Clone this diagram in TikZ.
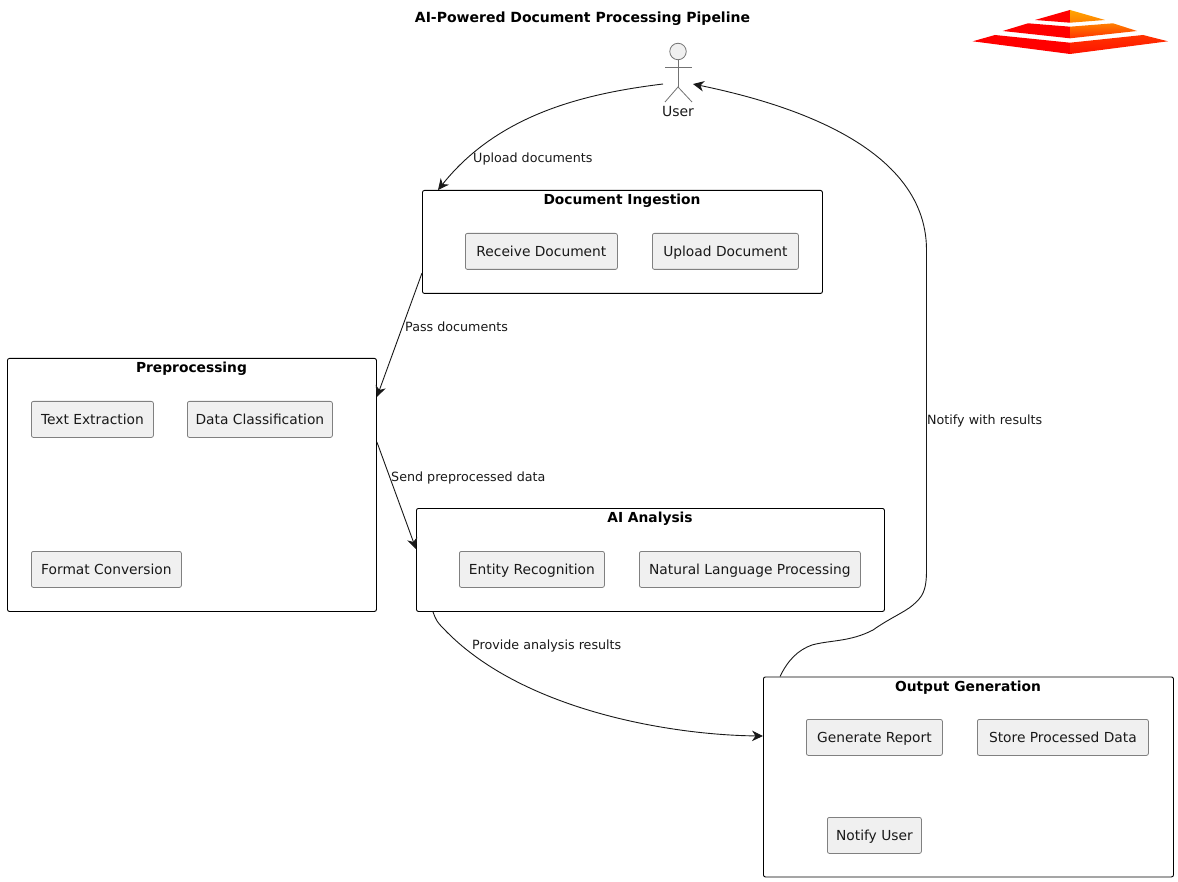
\documentclass[tikz,border=0pt]{standalone}
\usepackage{fontspec}
\setmainfont{DejaVu Sans}
\usetikzlibrary{arrows.meta,calc}
\tikzset{
  pic/.style={x=1pt,y=-1pt},
  groupbox/.style={draw=black,line width=0.9pt,rounded corners=2pt,anchor=north west,inner sep=0pt},
  taskbox/.style={draw=black!50,fill=black!6,line width=0.8pt,rounded corners=2pt,anchor=north west,inner sep=0pt,minimum height=36pt,text height=10.5pt,text depth=0.5pt,font=\fontsize{13.8}{16}\selectfont,text=black!90},
  grouptitle/.style={font=\fontsize{13.8}{16}\selectfont\bfseries,text=black,inner sep=0pt},
  edgelabel/.style={font=\fontsize{12.7}{15}\selectfont,text=black!90,anchor=west,inner sep=0pt},
  flow/.style={draw=black!90,line width=0.9pt,-{Stealth[length=11pt,width=10.5pt,inset=3.5pt]}},
  actorline/.style={draw=black!55,line width=0.8pt}
}
\begin{document}
\begin{tikzpicture}[pic]
\useasboundingbox (0,0) rectangle (1178,882);
\node[font=\fontsize{14}{16}\selectfont\bfseries,inner sep=0pt] (title) at (582.5,19) {AI-Powered Document Processing Pipeline};

% logo
\fill[red] (1035,20) -- (1070,10) -- (1070,22.7) -- cycle;
\shade[top color=orange!70!yellow,bottom color=orange] (1070,10) -- (1105,20) -- (1070,22.7) -- cycle;
\fill[red] (1002.7,31) -- (1028,23.3) -- (1070,26.7) -- (1070,38.3) -- cycle;
\shade[top color=orange,bottom color=red!60!orange] (1070,26.7) -- (1113,23.3) -- (1137,31) -- (1070,38.3) -- cycle;
\fill[red] (972.7,41.3) -- (995,35) -- (1070,42.7) -- (1070,54) -- cycle;
\shade[top color=red!60!orange,bottom color=red!85!orange] (1070,42.7) -- (1143,35) -- (1168,41.3) -- (1070,54) -- cycle;

% actor
\node[circle,draw=black!55,fill=black!6,line width=0.8pt,minimum size=16.5pt,inner sep=0pt] (head) at (678,51.5) {};
\coordinate (hip) at (678,87);
\coordinate (armL) at (665,67);
\coordinate (armR) at (692,67);
\coordinate (legL) at (665,102);
\coordinate (legR) at (692,102);
\draw[actorline] (head.south) -- (hip);
\draw[actorline] (armL) -- (armR);
\draw[actorline] (legL) -- (hip) -- (legR);
\node[font=\fontsize{14}{16}\selectfont,text=black!90,inner sep=0pt] (user) at (678,111.5) {User};
\coordinate (userOut) at (663,84);
\coordinate (userIn) at (693,84);

% groups
\node[groupbox,minimum width=400pt,minimum height=103pt] (ing) at (422,190) {};
\node[groupbox,minimum width=369pt,minimum height=253pt] (pre) at (7,358) {};
\node[groupbox,minimum width=468pt,minimum height=103pt] (ai) at (416,508) {};
\node[groupbox,minimum width=410pt,minimum height=200pt] (out) at (763,676.5) {};

\node[grouptitle] (ingT) at (622,201) {Document Ingestion};
\node[grouptitle] (preT) at (191.5,369) {Preprocessing};
\node[grouptitle] (aiT) at (650,519) {AI Analysis};
\node[grouptitle] (outT) at (968,688) {Output Generation};

% tasks
\node[taskbox,minimum width=152pt] (t1) at (465,233) {Receive Document};
\node[taskbox,minimum width=146pt] (t2) at (652,233) {Upload Document};
\node[taskbox,minimum width=122pt] (t3) at (31,401) {Text Extraction};
\node[taskbox,minimum width=145pt] (t4) at (187,401) {Data Classification};
\node[taskbox,minimum width=150pt] (t5) at (31,551) {Format Conversion};
\node[taskbox,minimum width=145pt] (t6) at (459,551) {Entity Recognition};
\node[taskbox,minimum width=221pt] (t7) at (639,551) {Natural Language Processing};
\node[taskbox,minimum width=136pt] (t8) at (806,719) {Generate Report};
\node[taskbox,minimum width=171pt] (t9) at (977,719) {Store Processed Data};
\node[taskbox,minimum width=94pt] (t10) at (827,817) {Notify User};

% connectors
\draw[flow] (userOut) .. controls (590,93) and (500,112) .. ($(ing.north west)+(16,0)$);
\draw[flow] ($(ing.north west)+(0,83)$) -- ($(pre.north east)+(0,39)$);
\draw[flow] ($(pre.north east)+(0,84)$) -- ($(ai.north west)+(0,41)$);
\draw[flow] ($(ai.south west)+(17,0)$) .. controls (436,620) and (437,622) .. (443,628)
  .. controls (520,710) and (670,735) .. ($(out.north west)+(0,59.5)$);
\draw[flow] ($(out.north west)+(17,0)$) .. controls (788,660) and (798,650) .. (812,645)
  .. controls (830,640) and (850,642) .. (873,630)
  .. controls (890,618) and (905,612) .. (913,605)
  .. controls (922,597) and (926.5,592) .. (926.5,570) -- (926.5,250)
  .. controls (926.5,140) and (770,100) .. (userIn);

% edge labels
\node[edgelabel] (l1) at (473,158.5) {Upload documents};
\node[edgelabel] (l2) at (405,326.5) {Pass documents};
\node[edgelabel] (l3) at (391,477.5) {Send preprocessed data};
\node[edgelabel] (l4) at (472,645.5) {Provide analysis results};
\node[edgelabel] (l5) at (927,420.5) {Notify with results};
\end{tikzpicture}
\end{document}
